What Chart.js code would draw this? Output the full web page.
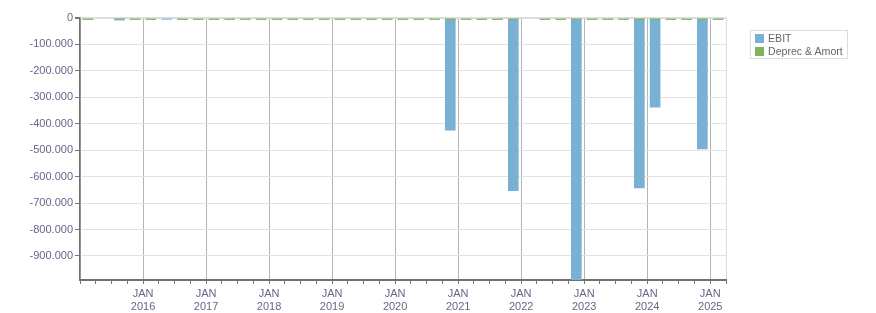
<!DOCTYPE html>
<html>
<head>
<meta charset="utf-8">
<script src="https://cdn.jsdelivr.net/npm/chart.js@4.4.1/dist/chart.umd.min.js"></script>
<style>
  body { margin: 0; background: #fff; }
  #wrap { position: relative; width: 876px; height: 313px; }
  #legend {
    position: absolute; left: 750px; top: 30px; width: 96px; height: 27px;
    border: 1px solid #dddddd; font: 10.6px "Liberation Sans", Arial, sans-serif; color: #666;
  }
  .item { position: absolute; left: 4px; height: 13px; line-height: 13px; white-space: nowrap; }
  .sw { display: inline-block; width: 9px; height: 9px; margin-right: 4px; vertical-align: -1px; }
</style>
</head>
<body>
<div id="wrap">
  <canvas id="chart" width="876" height="313"></canvas>
  <div id="legend"></div>
</div>
<script>
// quarterly figures, Q1 2015 .. Q1 2025
const quarters = [
  'Q1 2015', 'Q2 2015', 'Q3 2015', 'Q4 2015',
  'Q1 2016', 'Q2 2016', 'Q3 2016', 'Q4 2016',
  'Q1 2017', 'Q2 2017', 'Q3 2017', 'Q4 2017',
  'Q1 2018', 'Q2 2018', 'Q3 2018', 'Q4 2018',
  'Q1 2019', 'Q2 2019', 'Q3 2019', 'Q4 2019',
  'Q1 2020', 'Q2 2020', 'Q3 2020', 'Q4 2020',
  'Q1 2021', 'Q2 2021', 'Q3 2021', 'Q4 2021',
  'Q1 2022', 'Q2 2022', 'Q3 2022', 'Q4 2022',
  'Q1 2023', 'Q2 2023', 'Q3 2023', 'Q4 2023',
  'Q1 2024', 'Q2 2024', 'Q3 2024', 'Q4 2024',
  'Q1 2025'
];
const ebit = [
  null, null, -8000, null,
  null, -5000, null, null,
  null, null, null, null,
  null, null, null, null,
  null, null, null, null,
  null, null, null, -424000,
  null, null, null, -653000,
  null, null, null, -991000,
  null, null, null, -643000,
  -337000, null, null, -495000,
  null
];
const deprec = [
  -6000, null, -4000, -6000,
  -6000, null, -6000, -6000,
  -6000, -6000, -6000, -6000,
  -6000, -6000, -6000, -6000,
  -6000, -6000, -6000, -6000,
  -6000, -6000, -6000, -6000,
  -6000, -6000, -6000, -6000,
  null, -6000, -6000, -6000,
  -6000, -6000, -6000, -6000,
  -6000, -6000, -6000, -6000,
  -6000
];
const seriesNames = ['EBIT', 'Deprec & Amort'];
const seriesColors = ['#78b1d3', '#80b35e'];
const monthLabel = 'JAN';
const yStep = 100000;

const labelColor = '#66668a';
const font = { family: 'Liberation Sans', size: 11 };

// quarter -> position on a year axis (middle of the quarter)
function qx(label) {
  const parts = label.split(' ');
  return Number(parts[1]) + (Number(parts[0].slice(1)) - 0.5) / 4;
}
const xMin = Number(quarters[0].split(' ')[1]);
const xMax = qx(quarters[quarters.length - 1]) + 0.125;
const yMin = Math.min(...ebit.filter(v => v !== null), ...deprec.filter(v => v !== null));

function fmt(v) {
  const s = String(Math.abs(v)).replace(/\B(?=(\d{3})+(?!\d))/g, '.');
  return v < 0 ? '-' + s : s;
}

function points(values) {
  return quarters.map((q, i) => ({ x: qx(q), y: values[i] }));
}

new Chart(document.getElementById('chart'), {
  type: 'bar',
  data: {
    datasets: [
      { label: seriesNames[0], data: points(ebit), backgroundColor: seriesColors[0], order: 1 },
      { label: seriesNames[1], data: points(deprec), backgroundColor: seriesColors[1], order: 0 }
    ]
  },
  options: {
    responsive: false,
    animation: false,
    layout: { padding: { top: 18, right: 150, left: 0, bottom: 0 } },
    datasets: { bar: { barThickness: 10, grouped: false, borderWidth: 0 } },
    plugins: { legend: { display: false }, tooltip: { enabled: false } },
    scales: {
      x: {
        type: 'linear', min: xMin, max: xMax, offset: false,
        grid: {
          offset: false,
          color: ctx => {
            if (!ctx.tick) return 'rgba(0,0,0,0)';
            if (ctx.tick.value === xMax) return '#dddddd';
            return Number.isInteger(ctx.tick.value) ? '#b4b4b4' : 'rgba(0,0,0,0)';
          },
          tickColor: '#777777', tickLength: 4, lineWidth: 1
        },
        border: { color: '#707070', width: 2 },
        ticks: {
          stepSize: 0.25, autoSkip: false, maxRotation: 0, minRotation: 0, padding: 3,
          color: labelColor, font: font,
          callback: v => (Number.isInteger(v) && v > xMin) ? [monthLabel, String(v)] : ''
        },
        afterFit: s => { s.height = 33; }
      },
      y: {
        min: yMin, beginAtZero: true,
        grid: {
          color: ctx => (ctx.tick && ctx.tick.value === 0) ? '#dcdcdc' : '#e2e2e2',
          lineWidth: ctx => (ctx.tick && ctx.tick.value === 0) ? 2 : 1,
          tickColor: '#777777', tickLength: 5
        },
        border: { color: '#707070', width: 1.5 },
        ticks: {
          stepSize: yStep, includeBounds: false, padding: 2,
          color: labelColor, font: font, callback: v => fmt(v)
        },
        afterFit: s => { s.width = 80; }
      }
    }
  }
});

// legend box
const legend = document.getElementById('legend');
seriesNames.forEach((name, i) => {
  const row = document.createElement('div');
  row.className = 'item';
  row.style.top = (1 + i * 13) + 'px';
  const sw = document.createElement('span');
  sw.className = 'sw';
  sw.style.background = seriesColors[i];
  row.appendChild(sw);
  row.appendChild(document.createTextNode(name));
  legend.appendChild(row);
});
</script>
</body>
</html>
